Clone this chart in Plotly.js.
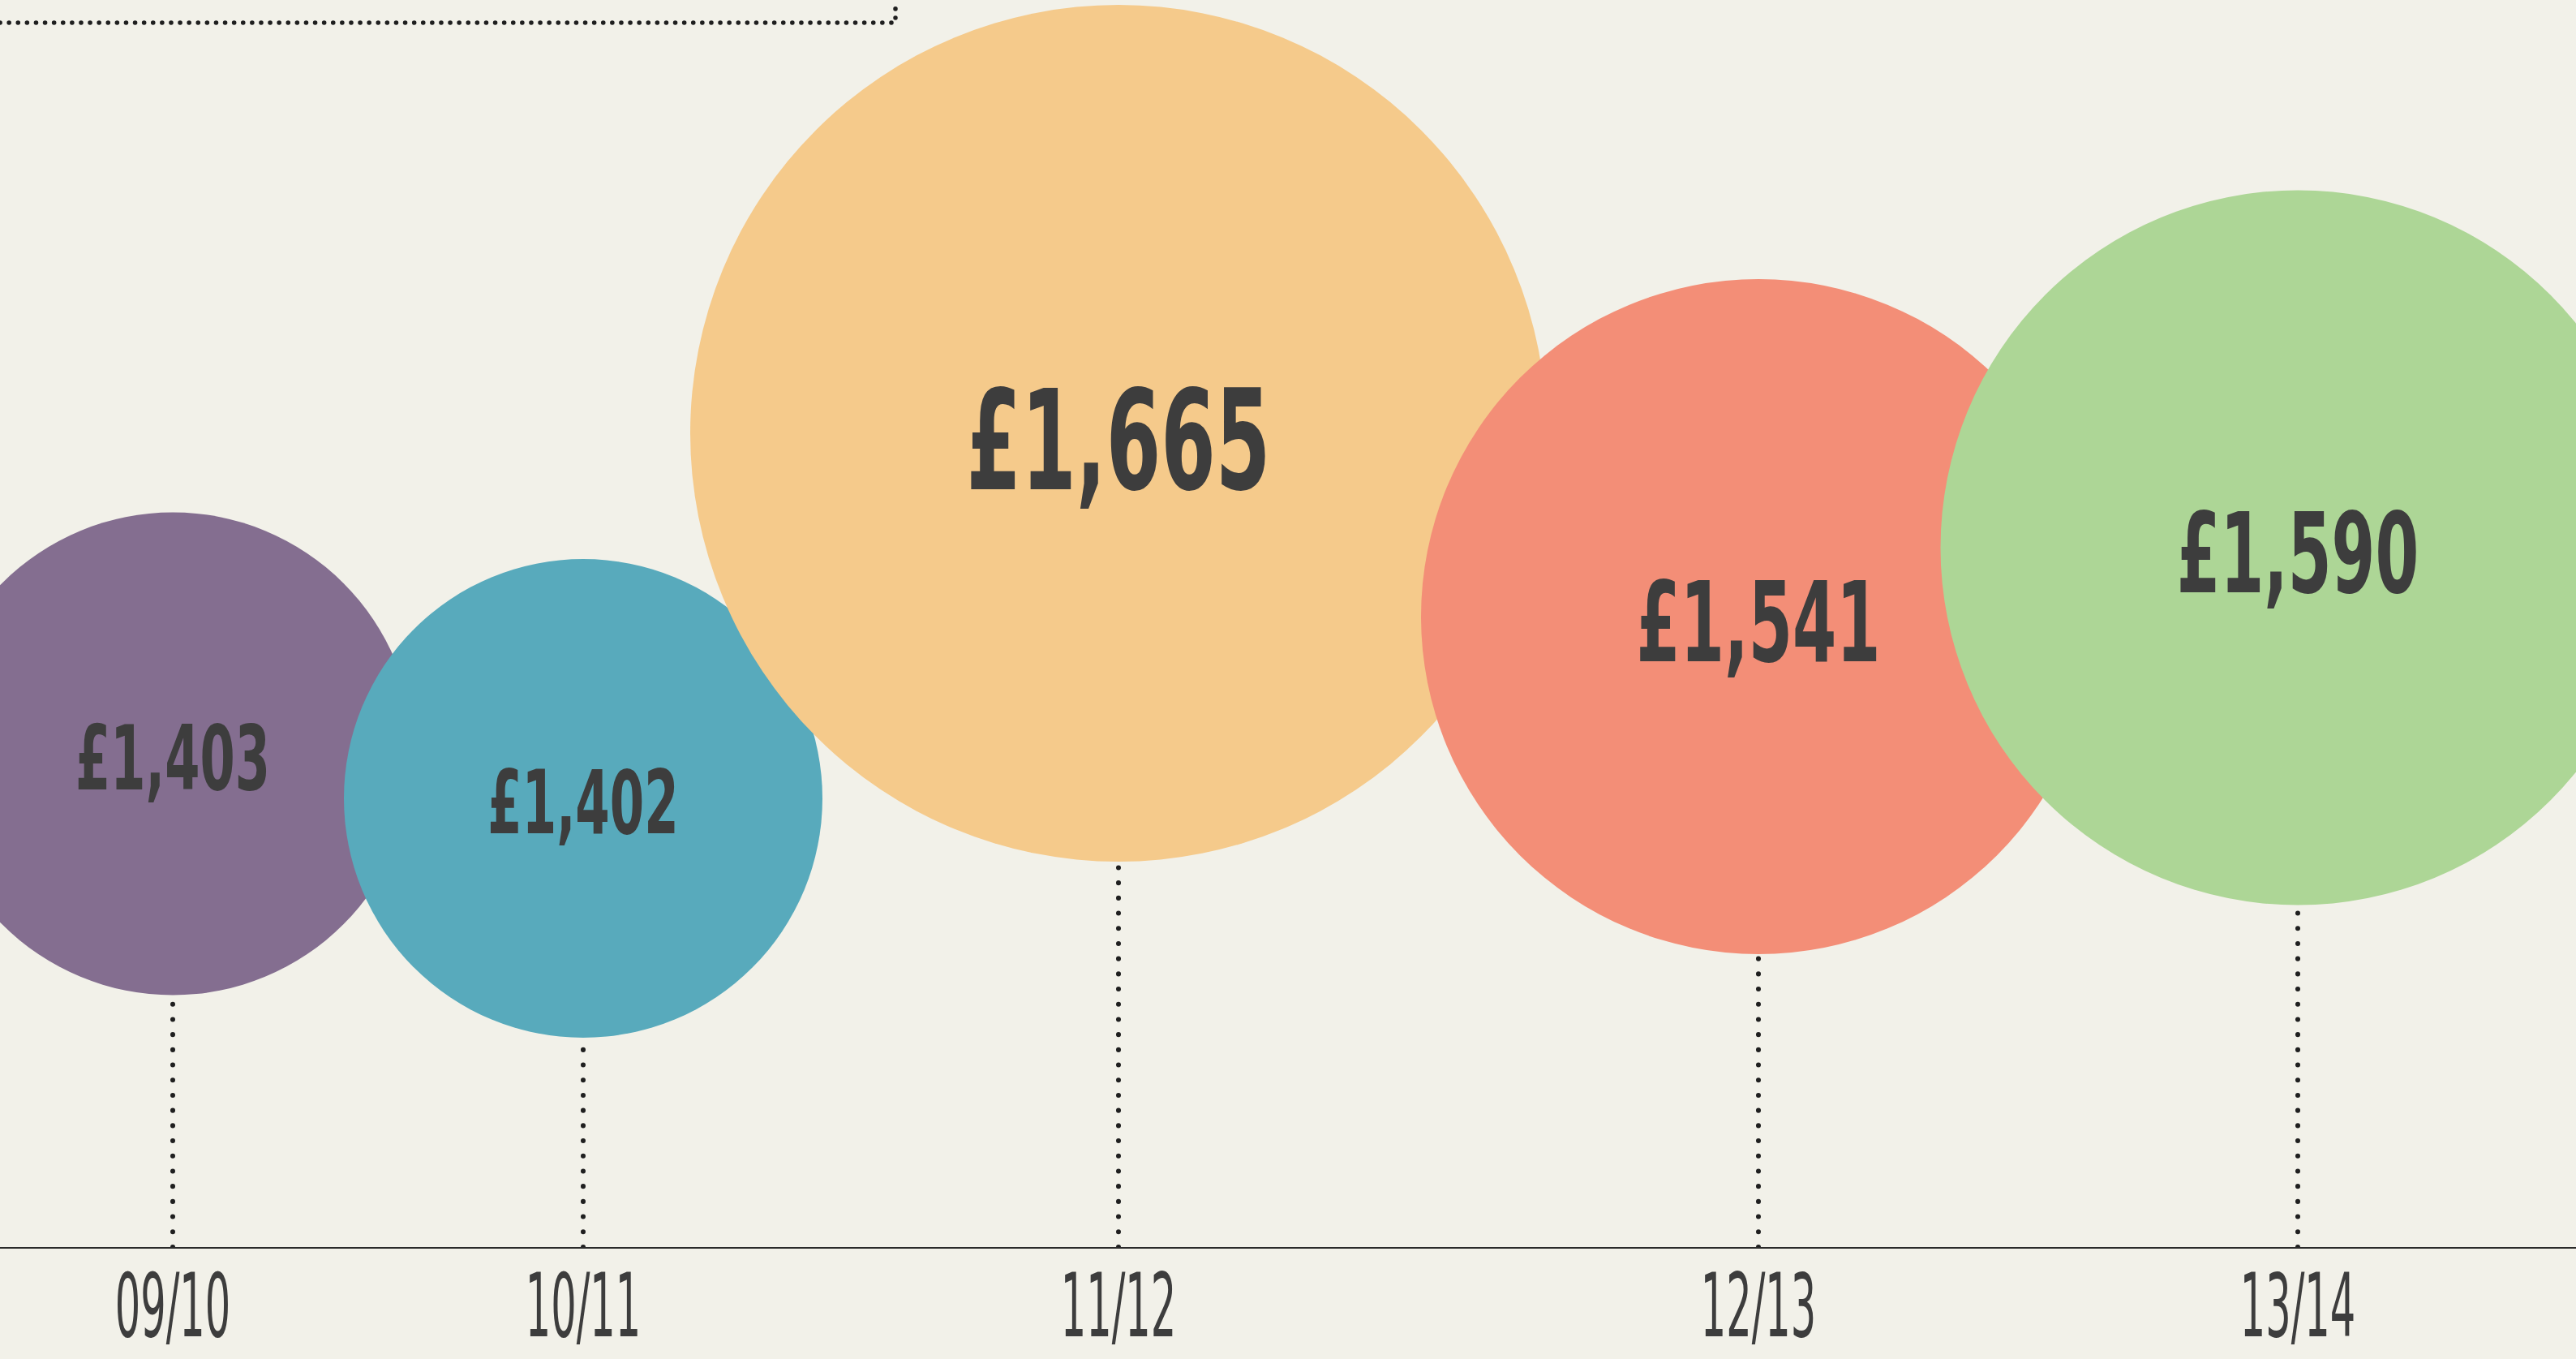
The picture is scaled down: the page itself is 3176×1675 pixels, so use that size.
<!DOCTYPE html>
<html>
<head>
<meta charset="utf-8">
<script src="https://cdn.plot.ly/plotly-3.0.1.min.js"></script>
<style>
  html, body { margin: 0; padding: 0; background: #f2f1e9; }
  #chart { width: 3176px; height: 1675px; }
  .scatterlayer .js-line, .shapelayer path { stroke-linecap: round !important; }
</style>
</head>
<body>
<div id="chart"></div>
<script>
// ---- data ----
const years = ['09/10', '10/11', '11/12', '12/13', '13/14'];
const values = [1403, 1402, 1665, 1541, 1590];

// ---- layout of the bubbles (designer placement, in plot pixels) ----
const bubbleX = [213, 719, 1379, 2168, 2833];
const bubbleY = [608, 553, 1003, 777, 862];
const bubbleDiameter = [595, 590, 1056, 832, 881];
const labelSize = [110, 108, 172, 138, 137];
const colors = ['#846e90', '#58aabc', '#f5ca8b', '#f38e77', '#add696'];

const FONT = '"DejaVu Sans Condensed", "Liberation Sans Narrow", "DejaVu Sans", sans-serif';
const INK = '#3d3d3d';
const TICK_SIZE = 108;

const labels = values.map(v => '£' + v.toLocaleString('en-GB'));

// dotted stems from axis to bubble
const stemX = [], stemY = [];
bubbleX.forEach((x, i) => { stemX.push(x, x, null); stemY.push(0, bubbleY[i], null); });

const traces = [
  {
    type: 'scatter', mode: 'lines', x: stemX, y: stemY,
    line: { color: '#1f1f1f', width: 6, dash: '0.1px,18.6px' },
    hoverinfo: 'skip', showlegend: false
  },
  {
    type: 'scatter', mode: 'markers+text', x: bubbleX, y: bubbleY,
    text: labels, textposition: 'middle center',
    textfont: { family: FONT, size: labelSize, color: INK, weight: 700 },
    marker: { size: bubbleDiameter, color: colors, opacity: 1, line: { width: 0 } },
    hoverinfo: 'skip', showlegend: false
  }
];

const layout = {
  width: 3176, height: 1675,
  margin: { l: 0, r: 0, t: 0, b: 138, pad: 0 },
  paper_bgcolor: '#f2f1e9', plot_bgcolor: '#f2f1e9',
  showlegend: false,
  xaxis: {
    range: [0, 3176], showgrid: false, zeroline: false,
    showline: true, linecolor: '#2a2a2a', linewidth: 2,
    tickmode: 'array', tickvals: bubbleX, ticktext: years,
    ticks: '', ticklabelstandoff: 0,
    tickfont: { family: FONT, size: TICK_SIZE, color: INK }
  },
  yaxis: { range: [0, 1537], visible: false, showgrid: false, zeroline: false },
  shapes: [
    {
      type: 'path', xref: 'x', yref: 'y', layer: 'above',
      path: 'M 0 1509 L 1104 1509 L 1104 1537',
      line: { color: '#1f1f1f', width: 5.5, dash: '0.1px,11px' }
    }
  ]
};

// narrow the (real) SVG text horizontally to mimic the condensed typeface
function condense(selector, emWidth, sizeOf, dyEm) {
  document.querySelectorAll(selector).forEach((t, i) => {
    const fs = sizeOf(i);
    const b = t.getBBox();
    const cx = b.x + b.width / 2;
    const s = Math.min(1, (emWidth * fs) / b.width);
    const dy = dyEm * fs;
    const prev = t.getAttribute('transform') || '';
    t.setAttribute('transform', prev + ' translate(' + cx + ',' + dy + ') scale(' + s + ',1) translate(' + (-cx) + ',0)');
  });
}

Plotly.newPlot('chart', traces, layout, { staticPlot: true, displayModeBar: false }).then(() => {
  condense('#chart .xtick text', 1.32, () => TICK_SIZE, -0.2);
  condense('#chart .textpoint text', 2.18, i => labelSize[i], 0.15);
});
</script>
</body>
</html>
